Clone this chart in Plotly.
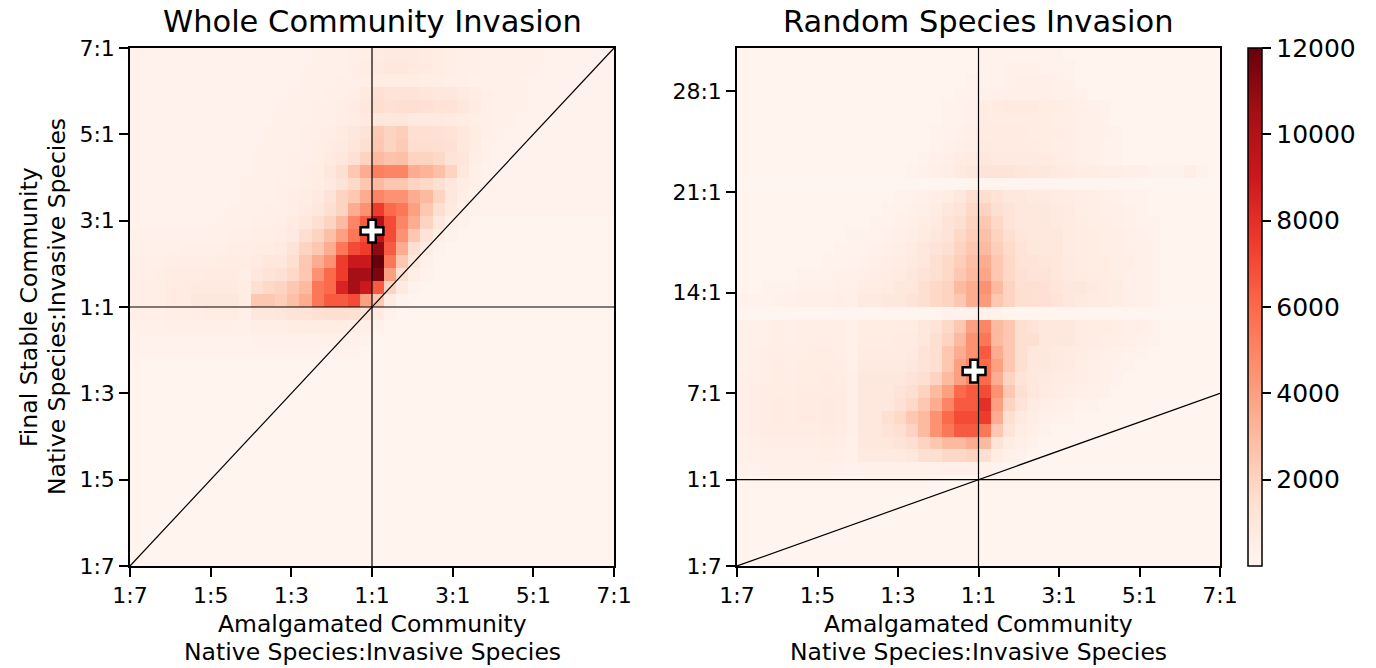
import plotly.graph_objects as go
import plotly.express as px

# ---------------- data (cell counts, in hundreds; rows listed top -> bottom) ----------------
TICKS_LR = [-6, -4, -2, 0, 2, 4, 6]
TICKTEXT_LR = ["1:7", "1:5", "1:3", "1:1", "3:1", "5:1", "7:1"]
TICKS_R_Y = [-6, 0, 6, 13, 20, 27]
TICKTEXT_R_Y = ["1:7", "1:1", "7:1", "14:1", "21:1", "28:1"]
CBAR_TICKS = [2000, 4000, 6000, 8000, 10000, 12000]
CBAR_TICKTEXT = ["2000", "4000", "6000", "8000", "10000", "12000"]

LEFT_ROWS = [
    "2 2 2 2 2 2 2 2 2 2 2 2 2 2 2 3 3 3 4 5 7 8 8 8 7 6 5 4 4 3 3 3 3 3 2 2 2 2 2 2",
    "2 2 2 2 2 2 2 2 2 2 2 2 2 2 2 3 3 3 4 6 8 9 9 8 7 6 5 4 4 3 3 3 3 3 2 2 2 2 2 2",
    "2 2 2 2 2 2 2 2 2 2 2 2 2 2 3 3 3 4 4 5 6 6 6 6 5 5 4 4 3 3 3 3 2 2 2 2 2 2 2 2",
    "2 2 2 2 2 2 2 2 2 2 2 2 2 3 3 3 4 4 5 8 14 12 12 12 11 10 9 8 6 4 3 3 3 2 2 2 2 2 2 2",
    "2 2 2 2 2 2 2 2 2 2 2 2 3 3 3 4 4 5 7 10 16 14 15 15 14 13 12 10 7 4 3 3 3 2 2 2 2 2 2 2",
    "2 2 2 2 2 2 2 2 2 2 2 2 3 3 3 4 4 5 6 8 10 9 9 8 8 8 7 6 5 4 3 3 2 2 2 2 2 2 2 2",
    "2 2 2 2 2 2 2 2 2 2 2 3 3 3 4 4 5 7 9 12 24 20 22 15 15 14 13 10 6 4 3 2 2 2 2 2 2 2 2 2",
    "2 2 2 2 2 2 2 2 2 2 2 3 3 3 4 5 6 8 11 15 25 20 24 16 16 15 14 10 6 3 2 2 2 2 2 2 2 2 2 2",
    "2 2 2 2 2 2 2 2 2 2 3 3 3 4 4 5 7 10 14 20 30 27 28 20 20 18 12 11 5 3 2 2 2 2 2 2 2 2 2 2",
    "2 2 2 2 2 2 2 2 2 2 3 3 3 4 5 6 10 15 25 35 52 50 50 35 33 28 20 10 4 2 2 2 2 2 2 2 2 2 2 2",
    "2 2 2 2 2 2 2 2 2 3 3 3 4 4 5 6 8 12 18 25 30 25 25 20 18 15 10 6 3 2 2 2 2 2 2 2 2 2 2 2",
    "2 2 2 2 2 2 2 2 2 3 3 3 4 5 6 8 12 20 25 35 50 45 45 35 30 20 10 5 2 2 2 2 2 2 2 2 2 2 2 2",
    "2 2 2 2 2 2 2 2 3 3 3 4 4 5 7 10 15 20 35 45 75 60 55 40 25 15 8 3 2 2 2 2 2 2 2 2 2 2 2 2",
    "2 2 2 2 2 2 2 3 3 3 4 4 5 7 10 15 20 30 50 65 100 70 50 35 20 10 4 2 1 1 1 1 1 1 1 1 1 1 1 1",
    "3 3 3 3 3 3 3 3 4 4 5 5 6 8 15 20 28 40 55 70 95 70 45 25 12 5 2 1 1 1 1 1 1 1 1 1 1 1 1 1",
    "3 3 3 3 4 4 4 4 5 5 6 6 8 12 20 25 35 55 70 75 110 65 35 15 6 2 1 1 1 1 1 1 1 1 1 1 1 1 1 1",
    "4 4 4 5 5 5 5 6 6 6 8 9 10 15 25 35 45 75 90 90 120 55 25 10 3 1 1 1 1 1 1 1 1 1 1 1 1 1 1 1",
    "4 4 5 6 6 6 7 7 7 5 10 12 14 18 25 45 60 75 105 105 115 40 15 5 2 1 1 1 1 1 1 1 1 1 1 1 1 1 1 1",
    "5 5 5 7 7 8 8 8 8 6 15 18 20 25 30 55 60 85 105 90 65 20 8 2 1 1 1 1 1 1 1 1 1 1 1 1 1 1 1 1",
    "5 5 5 7 7 9 9 9 9 6 25 25 22 28 35 55 65 65 70 40 25 7 2 1 1 1 1 1 1 1 1 1 1 1 1 1 1 1 1 1",
    "4 4 4 5 5 5 6 6 6 4 10 10 11 12 12 14 15 15 14 12 7 2 1 1 1 1 1 1 1 1 1 1 1 1 1 1 1 1 1 1",
    "3 3 3 4 4 4 4 4 4 3 5 5 5 6 6 6 6 6 5 4 2 1 1 1 1 1 1 1 1 1 1 1 1 1 1 1 1 1 1 1",
    "2 2 2 2 2 2 2 2 2 2 3 3 3 3 3 3 3 3 3 2 1 1 1 1 1 1 1 1 1 1 1 1 1 1 1 1 1 1 1 1",
    "2 2 2 2 2 2 2 2 2 2 2 2 2 2 2 2 2 2 2 1 1 1 1 1 1 1 1 1 1 1 1 1 1 1 1 1 1 1 1 1",
    "1 1 1 1 1 1 1 1 1 1 1 1 1 1 1 1 1 1 1 1 1 1 1 1 1 1 1 1 1 1 1 1 1 1 1 1 1 1 1 1",
    "1 1 1 1 1 1 1 1 1 1 1 1 1 1 1 1 1 1 1 1 1 1 1 1 1 1 1 1 1 1 1 1 1 1 1 1 1 1 1 1",
    "1 1 1 1 1 1 1 1 1 1 1 1 1 1 1 1 1 1 1 1 1 1 1 1 1 1 1 1 1 1 1 1 1 1 1 1 1 1 1 1",
    "1 1 1 1 1 1 1 1 1 1 1 1 1 1 1 1 1 1 1 1 1 1 1 1 1 1 1 1 1 1 1 1 1 1 1 1 1 1 1 1",
    "1 1 1 1 1 1 1 1 1 1 1 1 1 1 1 1 1 1 1 1 1 1 1 1 1 1 1 1 1 1 1 1 1 1 1 1 1 1 1 1",
    "1 1 1 1 1 1 1 1 1 1 1 1 1 1 1 1 1 1 1 1 1 1 1 1 1 1 1 1 1 1 1 1 1 1 1 1 1 1 1 1",
    "1 1 1 1 1 1 1 1 1 1 1 1 1 1 1 1 1 1 1 1 1 1 1 1 1 1 1 1 1 1 1 1 1 1 1 1 1 1 1 1",
    "1 1 1 1 1 1 1 1 1 1 1 1 1 1 1 1 1 1 1 1 1 1 1 1 1 1 1 1 1 1 1 1 1 1 1 1 1 1 1 1",
    "1 1 1 1 1 1 1 1 1 1 1 1 1 1 1 1 1 1 1 1 1 1 1 1 1 1 1 1 1 1 1 1 1 1 1 1 1 1 1 1",
    "1 1 1 1 1 1 1 1 1 1 1 1 1 1 1 1 1 1 1 1 1 1 1 1 1 1 1 1 1 1 1 1 1 1 1 1 1 1 1 1",
    "1 1 1 1 1 1 1 1 1 1 1 1 1 1 1 1 1 1 1 1 1 1 1 1 1 1 1 1 1 1 1 1 1 1 1 1 1 1 1 1",
    "1 1 1 1 1 1 1 1 1 1 1 1 1 1 1 1 1 1 1 1 1 1 1 1 1 1 1 1 1 1 1 1 1 1 1 1 1 1 1 1",
    "1 1 1 1 1 1 1 1 1 1 1 1 1 1 1 1 1 1 1 1 1 1 1 1 1 1 1 1 1 1 1 1 1 1 1 1 1 1 1 1",
    "1 1 1 1 1 1 1 1 1 1 1 1 1 1 1 1 1 1 1 1 1 1 1 1 1 1 1 1 1 1 1 1 1 1 1 1 1 1 1 1",
    "1 1 1 1 1 1 1 1 1 1 1 1 1 1 1 1 1 1 1 1 1 1 1 1 1 1 1 1 1 1 1 1 1 1 1 1 1 1 1 1",
    "1 1 1 1 1 1 1 1 1 1 1 1 1 1 1 1 1 1 1 1 1 1 1 1 1 1 1 1 1 1 1 1 1 1 1 1 1 1 1 1",
]

RIGHT_ROWS = [
    "1 1 1 1 1 1 1 1 1 1 1 1 1 1 1 1 1 1 1 1 2 2 2 2 2 2 2 1 1 1 1 1 1 1 1 1 1 1 1 1",
    "1 1 1 1 1 1 1 1 1 1 1 1 1 1 1 1 1 1 1 1 2 2 3 3 3 2 2 2 1 1 1 1 1 1 1 1 1 1 1 1",
    "1 1 1 1 1 1 1 1 1 1 1 1 1 1 1 1 1 1 1 2 2 2 3 4 4 4 3 2 1 1 1 1 1 1 1 1 1 1 1 1",
    "1 1 1 1 1 1 1 1 1 1 1 1 1 1 1 1 1 1 2 2 3 3 4 4 4 4 3 3 2 1 1 1 1 1 1 1 1 1 1 1",
    "1 1 1 1 1 1 1 1 1 1 1 1 1 1 1 1 1 2 2 3 6 7 8 8 8 6 6 5 4 3 2 1 1 1 1 1 1 1 1 1",
    "1 1 1 1 1 1 1 1 1 1 1 1 1 1 1 1 1 2 2 3 6 6 6 6 6 6 5 5 4 3 2 1 1 1 1 1 1 1 1 1",
    "1 1 1 1 1 1 1 1 1 1 1 1 1 1 1 1 2 2 3 4 7 7 7 7 6 6 6 5 4 3 3 2 1 1 1 1 1 1 1 1",
    "1 1 1 1 1 1 1 1 1 1 1 1 1 1 1 1 2 3 4 5 8 7 7 7 7 6 5 5 4 3 2 2 1 1 1 1 1 1 1 1",
    "1 1 1 1 1 1 1 1 1 1 1 1 1 1 1 2 3 4 6 7 9 8 8 8 8 7 6 5 4 3 2 2 1 1 1 1 1 1 1 1",
    "1 1 1 1 1 1 1 1 1 1 1 1 1 1 2 3 4 5 8 10 12 12 12 11 10 9 8 7 6 6 5 5 4 4 2 2 2 5 2 1",
    "0 0 0 0 0 0 0 0 0 0 0 0 0 0 0 0 0 0 0 1 1 1 0 0 0 0 0 0 0 0 0 0 0 0 0 0 0 0 0 0",
    "1 1 1 1 1 1 1 1 1 1 1 1 1 2 2 3 4 6 10 15 16 13 10 9 8 8 7 6 5 5 4 3 2 2 1 1 1 1 1 1",
    "1 1 1 1 1 1 1 1 1 1 1 1 2 2 3 4 6 9 12 18 20 15 12 10 9 9 8 7 5 5 4 4 3 2 1 1 1 1 1 1",
    "1 1 1 1 1 1 1 1 1 1 1 2 2 3 4 6 8 12 15 20 25 18 12 10 9 9 8 7 6 5 5 4 3 2 2 1 1 1 1 1",
    "1 1 1 1 1 1 1 1 1 2 2 2 3 4 5 7 10 12 18 22 28 20 15 11 10 10 9 7 6 6 5 5 4 3 2 1 1 1 1 1",
    "1 1 1 1 1 1 1 1 2 2 2 3 4 5 7 9 12 15 20 25 30 22 17 12 10 10 9 7 6 6 5 5 4 3 2 1 1 1 1 1",
    "1 1 1 1 1 1 1 2 2 2 3 4 5 6 8 10 15 18 22 28 35 25 18 13 12 11 10 8 7 6 6 5 5 3 2 1 1 1 1 1",
    "1 1 1 1 1 2 2 2 3 3 4 5 6 7 9 12 15 18 25 30 38 25 18 14 12 12 10 8 7 6 6 5 4 3 2 1 1 1 1 1",
    "1 1 2 2 2 3 3 3 4 4 6 6 7 9 10 15 18 20 30 35 45 30 20 15 15 14 11 10 9 8 7 6 4 3 2 1 1 1 1 1",
    "2 2 2 3 3 4 4 4 5 4 8 8 9 10 12 15 18 20 25 35 42 25 20 15 15 14 12 9 8 7 7 6 4 3 2 1 1 1 1 1",
    "0 0 0 0 0 0 0 0 0 0 0 0 0 0 0 0 1 2 2 2 2 2 1 0 0 0 0 0 0 0 0 0 0 0 0 0 0 0 0 0",
    "3 3 4 5 4 5 5 5 5 3 6 6 6 6 6 9 12 18 25 40 50 30 25 15 12 10 9 9 7 6 6 5 4 4 2 1 1 1 1 1",
    "3 3 4 5 4 5 5 5 5 3 6 6 6 7 7 10 15 20 30 45 55 30 25 15 15 10 10 10 7 6 5 5 4 3 2 1 1 1 1 1",
    "3 4 5 5 5 5 6 6 5 3 7 7 7 7 8 12 15 25 35 45 65 35 25 15 10 9 8 7 6 5 4 3 2 2 1 1 1 1 1 1",
    "3 4 5 6 5 6 6 6 6 3 8 8 8 8 10 12 15 25 40 50 60 40 25 15 10 9 8 7 5 4 3 2 2 1 1 1 1 1 1 1",
    "4 4 5 6 5 6 6 7 6 4 9 9 9 10 12 15 20 30 40 50 60 35 20 12 9 8 7 6 5 4 3 2 1 1 1 1 1 1 1 1",
    "4 5 6 6 6 7 7 7 7 4 9 9 9 12 15 20 30 40 60 65 70 45 25 15 9 7 6 5 4 3 2 1 1 1 1 1 1 1 1 1",
    "4 5 6 7 6 7 7 8 7 4 10 10 10 14 18 25 35 50 65 65 80 40 20 12 7 5 4 3 2 2 1 1 1 1 1 1 1 1 1 1",
    "4 5 6 7 6 7 7 8 7 4 10 10 15 18 25 30 45 60 70 70 75 35 15 8 5 3 2 2 1 1 1 1 1 1 1 1 1 1 1 1",
    "4 5 6 6 6 6 6 7 6 4 10 10 12 15 20 30 45 55 65 65 55 25 12 6 4 2 1 1 1 1 1 1 1 1 1 1 1 1 1 1",
    "3 4 5 5 5 5 5 6 5 3 10 10 10 12 15 20 25 30 30 35 30 12 6 4 2 1 1 1 1 1 1 1 1 1 1 1 1 1 1 1",
    "3 3 4 4 4 4 4 5 4 3 8 8 8 8 10 15 15 18 18 20 15 6 3 2 1 1 1 1 1 1 1 1 1 1 1 1 1 1 1 1",
    "2 2 3 3 3 3 3 3 3 2 3 3 3 3 3 3 3 4 4 4 3 2 1 1 1 1 1 1 1 1 1 1 1 1 1 1 1 1 1 1",
    "1 1 1 1 1 1 1 1 1 1 1 1 1 1 1 1 1 1 1 1 1 1 1 1 1 1 1 1 1 1 1 1 1 1 1 1 1 1 1 1",
    "1 1 1 1 1 1 1 1 1 1 1 1 1 1 1 1 1 1 1 1 1 1 1 1 1 1 1 1 1 1 1 1 1 1 1 1 1 1 1 1",
    "1 1 1 1 1 1 1 1 1 1 1 1 1 1 1 1 1 1 1 1 1 1 1 1 1 1 1 1 1 1 1 1 1 1 1 1 1 1 1 1",
    "1 1 1 1 1 1 1 1 1 1 1 1 1 1 1 1 1 1 1 1 1 1 1 1 1 1 1 1 1 1 1 1 1 1 1 1 1 1 1 1",
    "1 1 1 1 1 1 1 1 1 1 1 1 1 1 1 1 1 1 1 1 1 1 1 1 1 1 1 1 1 1 1 1 1 1 1 1 1 1 1 1",
    "1 1 1 1 1 1 1 1 1 1 1 1 1 1 1 1 1 1 1 1 1 1 1 1 1 1 1 1 1 1 1 1 1 1 1 1 1 1 1 1",
    "1 1 1 1 1 1 1 1 1 1 1 1 1 1 1 1 1 1 1 1 1 1 1 1 1 1 1 1 1 1 1 1 1 1 1 1 1 1 1 1",
]

CROSS_LEFT = (0.0, 1.76)
CROSS_RIGHT = (-0.11, 7.54)

# axis extents (ratio axis: n:1 -> n-1, 1:n -> -(n-1))
X_RANGE = [-6, 6]
Y_RANGE_L = [-6, 6]
Y_RANGE_R = [-6, 30]
N_BINS = 40


def parse(rows):
    z = []
    for r in rows:
        vals = [int(v) * 100 for v in r.split()]
        assert len(vals) == N_BINS, (len(vals), r)
        z.append(vals)
    assert len(z) == N_BINS
    return z[::-1]  # bottom row first


zL = parse(LEFT_ROWS)
zR = parse(RIGHT_ROWS)

W, H = 1376, 668
FONT = "DejaVu Sans"
REDS = px.colors.sequential.Reds


def fx(p):
    return p / W


def fy(p):
    return 1 - p / H


dx = (X_RANGE[1] - X_RANGE[0]) / N_BINS
dyL = (Y_RANGE_L[1] - Y_RANGE_L[0]) / N_BINS
dyR = (Y_RANGE_R[1] - Y_RANGE_R[0]) / N_BINS

fig = go.Figure()
fig.add_trace(go.Heatmap(z=zL, x0=X_RANGE[0] + dx / 2, dx=dx, y0=Y_RANGE_L[0] + dyL / 2, dy=dyL,
                         xaxis="x", yaxis="y", coloraxis="coloraxis", hoverinfo="skip"))
fig.add_trace(go.Heatmap(z=zR, x0=X_RANGE[0] + dx / 2, dx=dx, y0=Y_RANGE_R[0] + dyR / 2, dy=dyR,
                         xaxis="x2", yaxis="y2", coloraxis="coloraxis", hoverinfo="skip"))

line_style = dict(color="black", width=1.2)
for xa, ya, yr in (("x", "y", Y_RANGE_L), ("x2", "y2", Y_RANGE_R)):
    fig.add_trace(go.Scatter(x=[0, 0], y=yr, mode="lines", line=line_style, xaxis=xa, yaxis=ya,
                             showlegend=False, hoverinfo="skip"))
    fig.add_trace(go.Scatter(x=X_RANGE, y=[0, 0], mode="lines", line=line_style, xaxis=xa, yaxis=ya,
                             showlegend=False, hoverinfo="skip"))
    fig.add_trace(go.Scatter(x=X_RANGE, y=X_RANGE, mode="lines", line=line_style, xaxis=xa, yaxis=ya,
                             showlegend=False, hoverinfo="skip"))

for (cx, cy), xa, ya in ((CROSS_LEFT, "x", "y"), (CROSS_RIGHT, "x2", "y2")):
    fig.add_trace(go.Scatter(x=[cx], y=[cy], mode="markers", xaxis=xa, yaxis=ya, showlegend=False,
                             marker=dict(symbol="cross", size=19, color="white",
                                         line=dict(color="black", width=2.5))))

axis_common = dict(showline=True, mirror=True, linecolor="black", linewidth=1.5,
                   ticks="outside", ticklen=9, tickwidth=1.5, tickcolor="black",
                   showgrid=False, zeroline=False, automargin=False,
                   tickfont=dict(family=FONT, size=22, color="black"))

ydom = [fy(566), fy(48)]
fig.update_layout(
    width=W, height=H, margin=dict(l=0, r=0, t=0, b=0, autoexpand=False),
    paper_bgcolor="white", plot_bgcolor="white", showlegend=False,
    font=dict(family=FONT, color="black"),
    xaxis=dict(domain=[fx(130), fx(614)], range=X_RANGE, tickvals=TICKS_LR, ticktext=TICKTEXT_LR,
               anchor="y", **axis_common),
    yaxis=dict(domain=ydom, range=Y_RANGE_L, tickvals=TICKS_LR, ticktext=TICKTEXT_LR,
               anchor="x", **axis_common),
    xaxis2=dict(domain=[fx(737), fx(1220)], range=X_RANGE, tickvals=TICKS_LR, ticktext=TICKTEXT_LR,
                anchor="y2", **axis_common),
    yaxis2=dict(domain=ydom, range=Y_RANGE_R, tickvals=TICKS_R_Y, ticktext=TICKTEXT_R_Y,
                anchor="x2", **axis_common),
    coloraxis=dict(colorscale=REDS, cmin=0, cmax=12000,
                   colorbar=dict(x=fx(1248), xanchor="left", y=fy(566), yanchor="bottom",
                                 len=518 / H, lenmode="fraction", thickness=14, thicknessmode="pixels",
                                 xpad=0, ypad=0, outlinewidth=1.5, outlinecolor="black",
                                 tickvals=CBAR_TICKS, ticktext=CBAR_TICKTEXT,
                                 ticks="outside", ticklen=9, tickwidth=1.5,
                                 tickcolor="black",
                                 tickfont=dict(family=FONT, size=25, color="black"))),
)

ann = []


def text(x, y, s, size, angle=0):
    ann.append(dict(x=fx(x), y=fy(y), xref="paper", yref="paper", text=s, showarrow=False,
                    xanchor="center", yanchor="middle", textangle=angle, borderpad=0,
                    font=dict(family=FONT, size=size, color="black")))


text(372, 22, "Whole Community Invasion", 30.5)
text(978, 22, "Random Species Invasion", 30.5)
for cx in (372, 978):
    text(cx, 624, "Amalgamated Community", 23.5)
    text(cx, 652, "Native Species:Invasive Species", 23.5)
text(29, 307, "Final Stable Community", 23.5, -90)
text(57, 307, "Native Species:Invasive Species", 23.5, -90)
fig.update_layout(annotations=ann)

fig.write_html("out.html")
